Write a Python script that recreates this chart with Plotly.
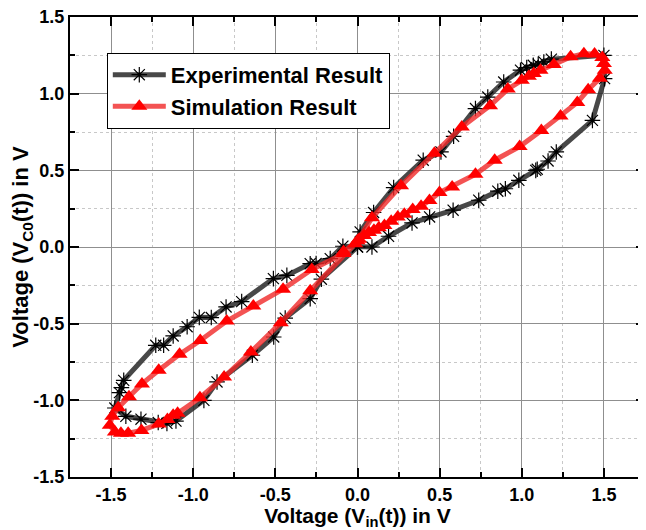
import plotly.graph_objects as go

# Experimental result (black, asterisks)
exp_x = [0.00, 0.016, 0.098, 0.22, 0.40, 0.508, 0.585, 0.718, 0.793, 0.89, 0.992, 1.03, 1.07, 1.10, 1.134, 1.18,
         1.50, 1.504, 1.43, 1.21, 1.16, 1.094, 1.085, 0.982, 0.90, 0.854, 0.738, 0.582, 0.439, 0.332, 0.189, 0.088,
         -0.089, -0.166, -0.252, -0.288, -0.43, -0.512, -0.705, -0.80, -0.89, -0.963, -1.037, -1.122, -1.18, -1.228,
         -1.423, -1.437, -1.449, -1.477, -1.41, -1.318, -1.213, -1.16, -1.105, -0.935, -0.855, -0.64, -0.51, -0.44,
         -0.288, -0.22, 0.00]
exp_y = [0.00, 0.098, 0.225, 0.387, 0.566, 0.62, 0.722, 0.903, 0.978, 1.076, 1.153, 1.17, 1.185, 1.192, 1.207, 1.225,
         1.25, 1.098, 0.826, 0.62, 0.561, 0.507, 0.50, 0.435, 0.38, 0.364, 0.305, 0.24, 0.196, 0.157, 0.07, 0.0,
         0.005, -0.076, -0.108, -0.109, -0.185, -0.206, -0.356, -0.391, -0.46, -0.459, -0.52, -0.58, -0.641, -0.641,
         -0.87, -0.917, -0.95, -1.05, -1.104, -1.123, -1.145, -1.15, -1.135, -1.0, -0.88, -0.706, -0.587, -0.464,
         -0.337, -0.21, 0.00]

# Simulation result (red, triangles)
sim_x = [-0.085, 0.0, 0.088, 0.265, 0.468, 0.635, 0.807, 0.915, 1.0, 1.043, 1.073, 1.114, 1.195, 1.297, 1.378,
         1.443, 1.49, 1.50, 1.505, 1.475, 1.404, 1.338, 1.236, 1.119, 0.987, 0.835, 0.718, 0.576, 0.499, 0.438,
         0.387, 0.336, 0.285, 0.245, 0.205, 0.164, 0.13, 0.10, 0.07, 0.04, 0.01, -0.085, -0.278, -0.453, -0.634,
         -0.796, -0.957, -1.083, -1.21, -1.312, -1.391, -1.457, -1.493, -1.508, -1.477, -1.44, -1.396, -1.315,
         -1.21, -1.157, -1.122, -1.095, -0.959, -0.812, -0.649, -0.467, -0.288, -0.014]
sim_y = [-0.03, 0.04, 0.19, 0.40, 0.611, 0.783, 0.922, 1.03, 1.087, 1.113, 1.131, 1.153, 1.19, 1.24, 1.26,
         1.259, 1.236, 1.196, 1.153, 1.10, 1.025, 0.943, 0.855, 0.759, 0.655, 0.566, 0.474, 0.391, 0.355, 0.303,
         0.265, 0.245, 0.213, 0.196, 0.168, 0.14, 0.125, 0.11, 0.095, 0.075, 0.05, -0.043, -0.147, -0.275, -0.385,
         -0.483, -0.61, -0.70, -0.804, -0.893, -0.976, -1.049, -1.103, -1.163, -1.207, -1.215, -1.214, -1.196,
         -1.155, -1.125, -1.098, -1.085, -0.983, -0.848, -0.685, -0.494, -0.285, 0.022]

tick_vals = [-1.5, -1.0, -0.5, 0.0, 0.5, 1.0, 1.5]
tick_text = ["-1.5", "-1.0", "-0.5", "0.0", "0.5", "1.0", "1.5"]

FONT = "Liberation Sans, Arial, sans-serif"

fig = go.Figure()
fig.add_trace(go.Scatter(
    x=exp_x, y=exp_y, mode="lines+markers", name="<b>Experimental Result</b>",
    line=dict(color="rgba(40,40,40,0.85)", width=5),
    marker=dict(symbol="asterisk-open", size=13, color="black", line=dict(color="black", width=1.2)),
))
fig.add_trace(go.Scatter(
    x=sim_x, y=sim_y, mode="lines+markers", name="<b>Simulation Result</b>",
    line=dict(color="rgba(240,40,40,0.8)", width=5),
    marker=dict(symbol="triangle-up", size=14, color="red", line=dict(width=0)),
))

axis_common = dict(
    tickvals=tick_vals, ticktext=tick_text,
    showline=True, linecolor="black", linewidth=2, mirror="allticks",
    ticks="inside", ticklen=9, tickwidth=2, tickcolor="black",
    showgrid=True, gridcolor="#8f8f8f", gridwidth=1,
    zeroline=False, automargin=False, ticklabeloverflow="allow",
    minor=dict(dtick=0.25, ticks="inside", ticklen=5, tickwidth=1.5, tickcolor="black",
               showgrid=True, gridcolor="#c8c8c8", griddash="3px,3px", gridwidth=1),
    tickfont=dict(family=FONT, size=18, color="black", weight="bold"),
)

# The page body has an 8px default margin, so the figure is sized to fit it.
fig.update_layout(
    width=638, height=522,
    margin=dict(l=62, r=1, t=9, b=53),
    paper_bgcolor="white", plot_bgcolor="white",
    xaxis=dict(range=[-1.75, 1.75], title=dict(text="<b>Voltage (V<sub>in</sub>(t)) in V</b>",
               font=dict(family=FONT, size=21, color="black"), standoff=4), **axis_common),
    yaxis=dict(range=[-1.5, 1.5], title=dict(text="<b>Voltage (V<sub>C0</sub>(t)) in V</b>",
               font=dict(family=FONT, size=22, color="black"), standoff=0), **axis_common),
    legend=dict(x=0.064, y=0.922, xanchor="left", yanchor="top",
                bordercolor="black", borderwidth=1, bgcolor="white",
                font=dict(family=FONT, size=22, color="black"),
                tracegroupgap=0, itemwidth=53),
    showlegend=True,
)

fig.write_html("out.html")
